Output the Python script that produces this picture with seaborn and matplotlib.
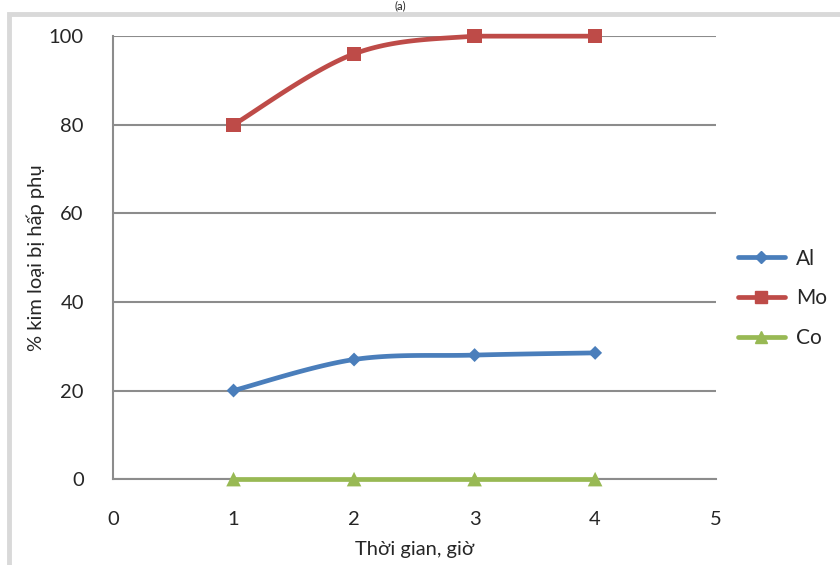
import numpy as np
import pandas as pd
import seaborn as sns
import matplotlib.pyplot as plt
from matplotlib.patches import Rectangle

# data
hours = [1, 2, 3, 4]
al = [20, 27, 28, 28.5]
mo = [80, 96, 100, 100]
co = [0, 0, 0, 0]

series = {'Al': al, 'Mo': mo, 'Co': co}
colors = {'Al': '#4A7EBB', 'Mo': '#BE4B48', 'Co': '#98B954'}
markers = {'Al': 'D', 'Mo': 's', 'Co': '^'}
msizes = {'Al': 50, 'Mo': 105, 'Co': 110}

df = pd.concat([pd.DataFrame({'t': hours, 'v': v, 'kl': k}) for k, v in series.items()])

sns.set_style('white')
plt.rcParams['font.family'] = ['Lato', 'DejaVu Sans']


def smooth(x, y, n=30):
    # Excel-like smoothed line (Catmull-Rom through the data points)
    x = np.asarray(x, float)
    y = np.asarray(y, float)
    px = np.concatenate([[x[0]], x, [x[-1]]])
    py = np.concatenate([[y[0]], y, [y[-1]]])
    xs, ys = [], []
    for i in range(1, len(px) - 2):
        t = np.linspace(0, 1, n)
        for p, out in ((px, xs), (py, ys)):
            p0, p1, p2, p3 = p[i - 1], p[i], p[i + 1], p[i + 2]
            out.extend(0.5 * (2 * p1 + (-p0 + p2) * t + (2 * p0 - 5 * p1 + 4 * p2 - p3) * t ** 2
                              + (-p0 + 3 * p1 - 3 * p2 + p3) * t ** 3))
    return np.array(xs), np.array(ys)


fig = plt.figure(figsize=(8.4, 5.65), dpi=100)
ax = fig.add_axes([0.1345, 0.152, 0.7175, 0.784])

# outer chart frame (light gray, partly cropped)
fig.patches.append(Rectangle((0.0105, -0.1), 1.2, 1.0755, transform=fig.transFigure,
                             fill=False, edgecolor='#D9D9D9', linewidth=3.5, zorder=0))
fig.text(0.476, 0.999, '(a)', ha='center', va='top', fontsize=8)

for k, sub in df.groupby('kl', sort=False):
    sx, sy = smooth(sub['t'], sub['v'])
    ax.plot(sx, np.minimum(sy, 100), color=colors[k], lw=3.4, solid_capstyle='round',
            zorder=3, clip_on=False)
    sns.scatterplot(data=sub, x='t', y='v', color=colors[k], marker=markers[k],
                    s=msizes[k], edgecolor='none', legend=False, ax=ax, zorder=4, clip_on=False)

ax.set_xlim(0, 5)
ax.set_ylim(0, 100)
ax.set_xticks(range(0, 6))
ax.set_yticks(range(0, 101, 20))
ax.yaxis.grid(True, color='#8C8C8C', lw=1.5)
ax.set_axisbelow(True)
for s in ['top', 'right']:
    ax.spines[s].set_visible(False)
for s in ['left', 'bottom']:
    ax.spines[s].set_color('#8C8C8C')
    ax.spines[s].set_linewidth(1.5)
ax.tick_params(axis='y', length=4, color='#8C8C8C', width=1.5, labelsize=14.5, pad=17)
ax.tick_params(axis='x', length=0, labelsize=14.5, pad=23)

ax.set_xlabel('Thời gian, giờ', fontsize=14.5, labelpad=9)
ax.set_ylabel('% kim loại bị hấp phụ', fontsize=14.5, labelpad=3)

handles = [plt.Line2D([], [], color=colors[k], lw=3.4, marker=markers[k],
                      markersize=np.sqrt(msizes[k]) * 0.85, solid_capstyle='round') for k in series]
fig.legend(handles, list(series), loc='center left', bbox_to_anchor=(0.878, 0.472),
           frameon=False, fontsize=15, handlelength=2.3, labelspacing=0.95, handletextpad=0.5,
           borderpad=0, borderaxespad=0)

plt.savefig('out.png', dpi=100)
